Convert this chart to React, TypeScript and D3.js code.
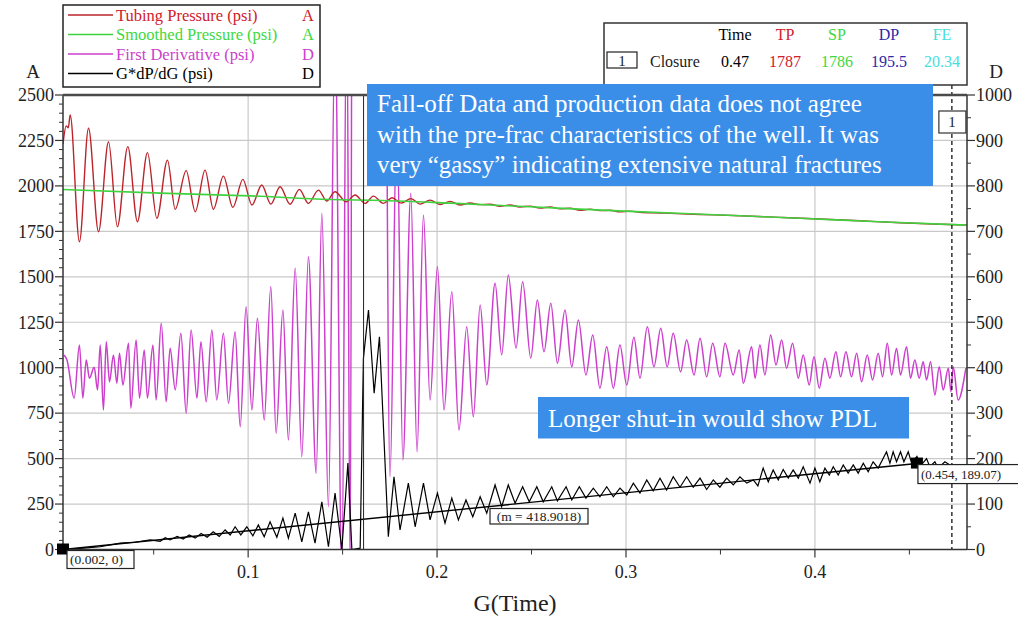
import React from "react";
import * as d3 from "d3";

// ---------- data ----------
// G-function time axis
const gDomain: [number, number] = [0.002, 0.4805];
const gTicks = [0.1, 0.2, 0.3, 0.4];
const gMinorTicks = [0.05, 0.15, 0.25, 0.35, 0.45];
// Left axis A (psi) and right axis D
const aTicks = [0, 250, 500, 750, 1000, 1250, 1500, 1750, 2000, 2250, 2500];
const dTicks = [0, 100, 200, 300, 400, 500, 600, 700, 800, 900, 1000];

// Tubing Pressure (psi), axis A  [G, psi]
const tubingPressure: [number, number][] = [
  [0.002, 2230], [0.0037, 2330], [0.0048, 2320], [0.0058, 2390], [0.0107, 1693],
  [0.0155, 2317], [0.0208, 1748], [0.0261, 2243], [0.0308, 1776], [0.0363, 2216],
  [0.0414, 1803], [0.0467, 2183], [0.0517, 1822], [0.0573, 2142], [0.0614, 1871],
  [0.0672, 2084], [0.072, 1858], [0.0772, 2087], [0.0816, 1871], [0.0869, 2054],
  [0.0919, 1882], [0.0972, 2036], [0.102, 1895], [0.1072, 2005], [0.112, 1900],
  [0.1169, 1995], [0.1222, 1899], [0.1271, 1981], [0.1319, 1904], [0.1372, 1977],
  [0.1416, 1917], [0.146, 1968], [0.1519, 1913], [0.1566, 1950], [0.1619, 1904],
  [0.1663, 1944], [0.1716, 1904], [0.1762, 1935], [0.181, 1905], [0.1862, 1930],
  [0.191, 1900], [0.1963, 1922], [0.2016, 1898], [0.2069, 1915], [0.2122, 1895],
  [0.2175, 1906], [0.2228, 1897], [0.2281, 1899], [0.2333, 1888], [0.2386, 1895],
  [0.2439, 1884], [0.2492, 1889], [0.2545, 1878], [0.2598, 1884], [0.2651, 1874],
  [0.2704, 1877], [0.2757, 1866], [0.281, 1872], [0.2862, 1864], [0.2915, 1866],
  [0.2968, 1857], [0.3021, 1861], [0.3074, 1855], [0.318, 1851], [0.3392, 1843],
  [0.3603, 1836], [0.3815, 1827], [0.4026, 1818], [0.4238, 1808], [0.445, 1797],
  [0.4661, 1789], [0.4804, 1785],
];

// Smoothed Pressure (psi), axis A
const smoothedPressure: [number, number][] = [
  [0.002, 1980], [0.0534, 1960], [0.101, 1945], [0.1434, 1925], [0.1714, 1920],
  [0.207, 1905], [0.249, 1885], [0.302, 1860], [0.35, 1840], [0.392, 1822],
  [0.434, 1803], [0.4804, 1784],
];

// First Derivative, axis D
const firstDerivative: [number, number][] = [
  [0.0026, 428], [0.0041, 417], [0.0079, 333], [0.0107, 450], [0.0125, 333],
  [0.0143, 417], [0.016, 377], [0.0185, 401], [0.0203, 351], [0.0217, 450],
  [0.0234, 307], [0.0249, 457], [0.0266, 369], [0.0287, 428], [0.0305, 366],
  [0.0319, 432], [0.0337, 362], [0.0367, 454], [0.0379, 311], [0.0407, 461],
  [0.0425, 333], [0.045, 439], [0.0467, 333], [0.0496, 450], [0.0513, 329],
  [0.054, 498], [0.0566, 325], [0.0587, 443], [0.0614, 351], [0.0644, 476],
  [0.0672, 300], [0.0698, 483], [0.0729, 333], [0.075, 457], [0.0778, 325],
  [0.0808, 483], [0.0834, 329], [0.0869, 476], [0.0896, 322], [0.0931, 479],
  [0.0958, 270], [0.0989, 534], [0.102, 307], [0.1049, 509], [0.1085, 285],
  [0.112, 578], [0.1148, 256], [0.1184, 527], [0.1213, 241], [0.1249, 619],
  [0.1284, 204], [0.1319, 644], [0.136, 168], [0.139, 740], [0.1425, 94],
  [0.146, 1150], [0.1496, -60], [0.1522, 1250], [0.154, -50], [0.1556, 2400],
  [0.1709, 2400], [0.1751, 160], [0.1787, 950], [0.1819, 197], [0.1861, 784],
  [0.1894, 215], [0.1928, 736], [0.1963, 329], [0.2002, 622], [0.2037, 307],
  [0.2078, 567], [0.2116, 263], [0.2157, 490], [0.2192, 292], [0.2228, 538],
  [0.2263, 362], [0.2307, 586], [0.2342, 428], [0.2377, 604], [0.2418, 443],
  [0.2453, 589], [0.2496, 421], [0.2531, 549], [0.2566, 435], [0.2602, 542],
  [0.2637, 410], [0.2677, 527], [0.2713, 402], [0.2748, 505], [0.2788, 384],
  [0.2824, 472], [0.2862, 355], [0.2898, 446], [0.2933, 355], [0.2968, 450],
  [0.3004, 362], [0.3042, 467], [0.3074, 377], [0.3113, 490], [0.3148, 402],
  [0.3184, 487], [0.3218, 402], [0.325, 476], [0.3289, 391], [0.3321, 461],
  [0.336, 384], [0.3392, 465], [0.3427, 380], [0.3459, 454], [0.3497, 380],
  [0.3524, 454], [0.3568, 384], [0.3599, 439], [0.3621, 366], [0.3665, 446],
  [0.3683, 377], [0.3709, 450], [0.3735, 384], [0.3766, 472], [0.3794, 406],
  [0.3824, 461], [0.385, 399], [0.3882, 454], [0.3912, 377], [0.3938, 428],
  [0.397, 362], [0.3995, 424], [0.4023, 355], [0.4053, 421], [0.4079, 377],
  [0.4111, 435], [0.4136, 380], [0.4164, 435], [0.4194, 380], [0.4221, 432],
  [0.4247, 369], [0.4277, 428], [0.4305, 373], [0.4335, 432], [0.4358, 380],
  [0.4383, 454], [0.4406, 384], [0.4432, 443], [0.4453, 384], [0.4485, 446],
  [0.4506, 377], [0.4529, 417], [0.4552, 377], [0.4573, 413], [0.4591, 373],
  [0.4612, 413], [0.4635, 340], [0.4658, 402], [0.4679, 351], [0.4706, 399],
  [0.472, 347], [0.4732, 402], [0.4758, 329], [0.4799, 399],
];

// G*dP/dG, axis D
const gdpdg: [number, number][] = [
  [0.002, 0], [0.0129, 3], [0.0217, 6], [0.0323, 14], [0.0402, 16], [0.0481, 21],
  [0.0534, 18], [0.0561, 26], [0.0587, 21], [0.0624, 29], [0.0656, 23], [0.0688, 32],
  [0.072, 25], [0.0751, 35], [0.0783, 27], [0.0815, 39], [0.0847, 29], [0.0878, 43],
  [0.0905, 32], [0.0931, 50], [0.0961, 32], [0.0993, 50], [0.1025, 30], [0.1054, 54],
  [0.1085, 28], [0.1116, 61], [0.1152, 27], [0.1184, 69], [0.1213, 25], [0.1249, 80],
  [0.1284, 17], [0.1319, 83], [0.1354, 14], [0.139, 105], [0.1425, 6], [0.146, 124],
  [0.1496, 0], [0.1528, 190], [0.1549, 0], [0.1593, 3], [0.161, 420], [0.1637, 527],
  [0.1667, 344], [0.1695, 468], [0.1742, 28], [0.1772, 160], [0.1804, 43], [0.1848, 146],
  [0.1884, 50], [0.1928, 146], [0.1963, 65], [0.2002, 124], [0.2042, 58], [0.2078, 113],
  [0.2113, 65], [0.2153, 109], [0.2189, 72], [0.2228, 116], [0.2263, 80], [0.2307, 142],
  [0.2342, 94], [0.2377, 142], [0.2413, 102], [0.2453, 138], [0.2488, 105], [0.2528, 138],
  [0.2562, 105], [0.2607, 138], [0.2637, 107], [0.2683, 138], [0.2713, 109], [0.2753, 138],
  [0.2788, 113], [0.2827, 135], [0.2862, 116], [0.2898, 138], [0.2933, 116], [0.2968, 135],
  [0.3004, 120], [0.3039, 146], [0.3074, 124], [0.311, 153], [0.3144, 129], [0.318, 157],
  [0.3215, 131], [0.325, 160], [0.3286, 137], [0.3321, 160], [0.3356, 137], [0.3392, 157],
  [0.3427, 132], [0.3462, 153], [0.3497, 137], [0.3533, 157], [0.3568, 142], [0.3603, 160],
  [0.3639, 146], [0.3674, 153], [0.3698, 140], [0.3726, 179], [0.3753, 149], [0.3779, 175],
  [0.3806, 153], [0.3832, 176], [0.3859, 157], [0.3885, 175], [0.3912, 157], [0.3938, 182],
  [0.3974, 146], [0.4, 179], [0.4026, 149], [0.4053, 179], [0.4076, 164], [0.4097, 182],
  [0.4123, 164], [0.415, 186], [0.4176, 168], [0.4203, 186], [0.4229, 168], [0.4256, 190],
  [0.4282, 171], [0.4308, 193], [0.4335, 179], [0.4379, 215], [0.4397, 190], [0.4414, 215],
  [0.4432, 193], [0.4453, 215], [0.4471, 193], [0.4494, 215], [0.4512, 190], [0.454, 205],
  [0.4561, 185], [0.4591, 200], [0.4608, 182], [0.4635, 193], [0.4652, 179], [0.4688, 193],
  [0.4714, 186],
];

// Straight-line fit through the G*dP/dG data
const fitStart: [number, number] = [0.002, 0];
const fitEnd: [number, number] = [0.454, 189.07];
const fitSlope = 418.9018;

// Closure pick
const closureTime = 0.4725;
const tableHeaders = ["Time", "TP", "SP", "DP", "FE"];
const tableValues = ["0.47", "1787", "1786", "195.5", "20.34"];

// Marker line near the derivative blow-up
const eventTime = 0.1611;

const legendNames = [
  "Tubing Pressure (psi)",
  "Smoothed Pressure (psi)",
  "First Derivative (psi)",
  "G*dP/dG (psi)",
];
const legendAxes = ["A", "A", "D", "D"];

const noteLines = [
  "Fall-off Data and production data does not agree",
  "with the pre-frac characteristics of the well.  It was",
  "very \u201Cgassy\u201D indicating extensive natural fractures",
];
const note2 = "Longer shut-in would show PDL";

// ---------- styles ----------
const W = 1018;
const H = 620;
const PL = 63;
const PR = 967;
const PT = 95;
const PB = 549.5;
const FONT = "'Liberation Serif', 'Times New Roman', serif";
const seriesColors = ["#bb242b", "#3ed23e", "#cc3fcc", "#000000"];
const legendTextColors = ["#d0202a", "#3ed83e", "#cc3fcc", "#000000"];
const tableColors = ["#000000", "#d0202a", "#3ed83e", "#2a2aa8", "#45dede"];
const gridColor = "#c9c9c9";
const axisColor = "#333333";
const noteFill = "#3a8ee8";

export default function App() {
  const x = d3.scaleLinear().domain(gDomain).range([PL, PR]);
  const yA = d3.scaleLinear().domain([0, 2500]).range([PB, PT]);
  const yD = d3.scaleLinear().domain([0, 1000]).range([PB, PT]);

  const smoothA = d3
    .line<[number, number]>()
    .x((d) => x(d[0]))
    .y((d) => yA(d[1]))
    .curve(d3.curveMonotoneX);
  const smoothD = d3
    .line<[number, number]>()
    .x((d) => x(d[0]))
    .y((d) => yD(d[1]))
    .curve(d3.curveMonotoneX);
  const linearD = d3
    .line<[number, number]>()
    .x((d) => x(d[0]))
    .y((d) => yD(d[1]));

  const fitLine: [number, number][] = [
    fitStart,
    [fitEnd[0], fitSlope * (fitEnd[0] - fitStart[0])],
  ];

  const aMinor = d3.range(0, 2501, 50).filter((v) => v % 250 !== 0);
  const dMinor = d3.range(50, 1000, 100);

  const legendRowY = [15, 34.5, 54, 73.5];

  const tableCols = [735, 785, 837, 889, 942];

  return (
    <svg
      width={W}
      height={H}
      style={{ position: "absolute", left: 0, top: 0, background: "#fff" }}
      fontFamily={FONT}
    >
      <defs>
        <clipPath id="plot-clip">
          <rect x={PL} y={PT} width={PR - PL} height={PB - PT} />
        </clipPath>
      </defs>

      {/* grid */}
      {aTicks.slice(1, -1).map((v) => (
        <line key={"ga" + v} x1={PL} x2={PR} y1={yA(v)} y2={yA(v)} stroke={gridColor} strokeWidth={1.2} />
      ))}
      {gTicks.map((v) => (
        <line key={"gg" + v} x1={x(v)} x2={x(v)} y1={PT} y2={PB} stroke={gridColor} strokeWidth={1.2} />
      ))}

      {/* series */}
      <g clipPath="url(#plot-clip)" fill="none">
        <path d={smoothD(firstDerivative) || ""} stroke={seriesColors[2]} strokeWidth={1.5} />
        <path d={smoothA(tubingPressure) || ""} stroke={seriesColors[0]} strokeWidth={1.4} />
        <path d={smoothA(smoothedPressure) || ""} stroke={seriesColors[1]} strokeWidth={1.6} />
        <path d={linearD(gdpdg) || ""} stroke={seriesColors[3]} strokeWidth={1.2} />
        <path d={linearD(fitLine) || ""} stroke="#000" strokeWidth={1.4} />
      </g>

      {/* event and closure lines */}
      <line x1={x(eventTime)} x2={x(eventTime)} y1={PT} y2={PB} stroke="#222" strokeWidth={1} />
      <line
        x1={x(closureTime)}
        x2={x(closureTime)}
        y1={PT - 10}
        y2={PB}
        stroke="#000"
        strokeWidth={1.2}
        strokeDasharray="4,3"
      />

      {/* left axis A */}
      <line x1={PL} x2={PL} y1={PT} y2={PB} stroke={axisColor} strokeWidth={1.5} />
      {aMinor.map((v) => (
        <line key={"am" + v} x1={PL - 4} x2={PL} y1={yA(v)} y2={yA(v)} stroke={axisColor} strokeWidth={1} />
      ))}
      {aTicks.map((v) => (
        <g key={"at" + v}>
          <line x1={PL - 8} x2={PL} y1={yA(v)} y2={yA(v)} stroke={axisColor} strokeWidth={1.2} />
          <text x={PL - 9} y={yA(v)} dy="0.35em" textAnchor="end" fontSize={18} fill="#222">
            {v}
          </text>
        </g>
      ))}
      <text x={33} y={78} textAnchor="middle" fontSize={19} fill="#222">A</text>

      {/* right axis D */}
      <line x1={PR} x2={PR} y1={PT} y2={PB} stroke={axisColor} strokeWidth={1.5} />
      {dMinor.map((v) => (
        <line key={"dm" + v} x1={PR} x2={PR + 4} y1={yD(v)} y2={yD(v)} stroke={axisColor} strokeWidth={1} />
      ))}
      {dTicks.map((v) => (
        <g key={"dt" + v}>
          <line x1={PR} x2={PR + 8} y1={yD(v)} y2={yD(v)} stroke={axisColor} strokeWidth={1.2} />
          <text x={PR + 9} y={yD(v)} dy="0.35em" textAnchor="start" fontSize={18} fill="#222">
            {v}
          </text>
        </g>
      ))}
      <text x={996} y={78} textAnchor="middle" fontSize={19} fill="#222">D</text>

      {/* bottom axis */}
      <line x1={PL} x2={PR} y1={PB} y2={PB} stroke={axisColor} strokeWidth={1.5} />
      {gMinorTicks.map((v) => (
        <line key={"gm" + v} x1={x(v)} x2={x(v)} y1={PB} y2={PB + 5} stroke={axisColor} strokeWidth={1} />
      ))}
      {gTicks.map((v) => (
        <g key={"gt" + v}>
          <line x1={x(v)} x2={x(v)} y1={PB} y2={PB + 8} stroke={axisColor} strokeWidth={1.2} />
          <text x={x(v)} y={578} textAnchor="middle" fontSize={18} fill="#222">
            {v}
          </text>
        </g>
      ))}
      <text x={515} y={611} textAnchor="middle" fontSize={24} fill="#222">G(Time)</text>

      {/* top frame */}
      <line x1={PL} x2={PR} y1={PT} y2={PT} stroke="#4a4a4a" strokeWidth={2.5} />

      {/* fit end markers and labels */}
      <rect x={x(fitStart[0]) - 6} y={yD(fitStart[1]) - 6} width={12} height={11} fill="#000" />
      <rect x={x(fitEnd[0]) - 6} y={yD(fitEnd[1]) - 6} width={12} height={11} fill="#000" />
      <rect x={x(fitStart[0]) + 4} y={yD(fitStart[1]) + 1} width={67} height={18} fill="#fff" stroke="#222" strokeWidth={1.2} />
      <text x={x(fitStart[0]) + 7} y={yD(fitStart[1]) + 14.5} fontSize={13.5} fill="#222">
        ({fitStart[0].toFixed(3)}, {fitStart[1]})
      </text>
      <rect x={x(fitEnd[0]) + 1} y={yD(fitEnd[1]) + 1} width={110} height={19} fill="#fff" stroke="#222" strokeWidth={1.2} />
      <text x={x(fitEnd[0]) + 4} y={yD(fitEnd[1]) + 15.5} fontSize={13} fill="#222">
        ({fitEnd[0].toFixed(3)}, {fitEnd[1].toFixed(2)})
      </text>
      <rect x={490} y={508.5} width={98} height={15.5} fill="#fff" stroke="#222" strokeWidth={1.2} />
      <text x={539} y={521} fontSize={13.5} fill="#222" textAnchor="middle">
        (m = {fitSlope.toFixed(4)})
      </text>

      {/* legend */}
      <rect x={63} y={5} width={257} height={82} fill="#fff" stroke="#222" strokeWidth={1.5} />
      {legendNames.map((name, i) => (
        <g key={name}>
          <line x1={68} x2={113} y1={legendRowY[i]} y2={legendRowY[i]} stroke={seriesColors[i]} strokeWidth={1.3} />
          <text x={116} y={legendRowY[i] + 5.5} fontSize={16.5} fill={legendTextColors[i]}>
            {name}
          </text>
          <text x={308} y={legendRowY[i] + 5.5} fontSize={16.5} textAnchor="middle" fill={legendTextColors[i]}>
            {legendAxes[i]}
          </text>
        </g>
      ))}

      {/* closure table */}
      <rect x={604} y={23} width={363} height={62} fill="#fff" stroke="#333" strokeWidth={1.5} />
      {tableHeaders.map((h, i) => (
        <text key={h} x={tableCols[i]} y={40} textAnchor="middle" fontSize={16} fill={tableColors[i]}>
          {h}
        </text>
      ))}
      <rect x={607} y={52} width={30} height={16} fill="#fff" stroke="#222" strokeWidth={1.2} />
      <text x={622} y={65.5} textAnchor="middle" fontSize={15} fill="#222">1</text>
      <text x={650} y={66.5} fontSize={16} fill="#222">Closure</text>
      {tableValues.map((v, i) => (
        <text key={"tv" + i} x={tableCols[i]} y={66.5} textAnchor="middle" fontSize={16} fill={tableColors[i]}>
          {i === 0 ? closureTime.toFixed(2) : v}
        </text>
      ))}

      {/* closure tag */}
      <rect x={x(closureTime) - 13} y={111} width={27} height={22} fill="#fff" stroke="#333" strokeWidth={1.2} />
      <text x={x(closureTime)} y={127} textAnchor="middle" fontSize={15} fill="#222">1</text>

      {/* notes */}
      <rect x={367} y={84} width={566} height={102} fill={noteFill} />
      {noteLines.map((t, i) => (
        <text key={"n" + i} x={377} y={112 + i * 30.5} fontSize={25} fill="#fff">
          {t}
        </text>
      ))}
      <rect x={538} y={397} width={371} height={41.5} fill={noteFill} />
      <text x={548} y={427} fontSize={25} fill="#fff">{note2}</text>
    </svg>
  );
}
